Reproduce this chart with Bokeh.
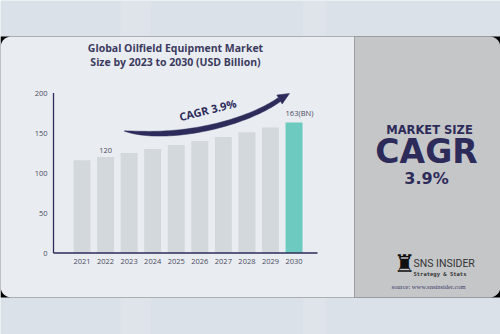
import numpy as np
from bokeh.plotting import figure
from bokeh.models import Range1d
from bokeh.core.properties import value
from bokeh.embed import file_html
from bokeh.resources import INLINE

# ---- data ----
years = ["2021", "2022", "2023", "2024", "2025", "2026", "2027", "2028", "2029", "2030"]
market_size = [116, 120, 125, 130, 135, 140, 145, 151, 157, 163]
y_ticks = [0, 50, 100, 150, 200]
labeled_years = ["2022", "2030"]
labeled_texts = ["120", "163(BN)"]
title_lines = ["Global Oilfield Equipment Market", "Size by 2023 to 2030 (USD Billion)"]
cagr_text = "3.9%"

W, H = 500, 334
NAVY = "#2d2b5a"

def Y(yt):
    return H - yt

p = figure(width=W, height=H, x_range=Range1d(0, W), y_range=Range1d(0, H),
           min_border=0, toolbar_location=None, output_backend="svg",
           x_axis_type=None, y_axis_type=None)
p.grid.visible = False
p.outline_line_color = None
p.background_fill_color = "#dbe1e8"
p.border_fill_color = "#dbe1e8"

# background stripes on outer band
p.quad(left=[120, 302], right=[150, 325], bottom=[0, 0], top=[H, H],
       fill_color="#e4e8ed", fill_alpha=0.5, line_color=None)

# black behind the card (visible only at corners)
card_top, card_bot, split = 36, 297, 354
p.quad(left=[0], right=[W], bottom=[Y(card_bot)], top=[Y(card_top)],
       fill_color="black", line_color=None)

def rounded(x0, x1, yt0, yt1, r, left_round, right_round):
    xs, ys = [], []
    def arc(cx, cy, a0, a1):
        a = np.linspace(a0, a1, 12)
        xs.extend(cx + r * np.cos(a))
        ys.extend(cy + r * np.sin(a))
    top, bot = Y(yt0), Y(yt1)
    if left_round:
        arc(x0 + r, top - r, np.pi, np.pi / 2)
    else:
        xs.append(x0); ys.append(top)
    if right_round:
        arc(x1 - r, top - r, np.pi / 2, 0)
        arc(x1 - r, bot + r, 0, -np.pi / 2)
    else:
        xs.extend([x1, x1]); ys.extend([top, bot])
    if left_round:
        arc(x0 + r, bot + r, -np.pi / 2, -np.pi)
    else:
        xs.append(x0); ys.append(bot)
    return xs, ys

lx, ly = rounded(0, split, card_top, card_bot, 11, True, False)
p.patch(lx, ly, fill_color="#e9edf1", line_color=None)
rx, ry = rounded(split, W, card_top, card_bot, 11, False, True)
p.patch(rx, ry, fill_color="#c5c6c8", line_color=None)

# ---- chart ranges (mapped onto the card) ----
x0_px, step_px = 81.5, 23.56
base_px, unit_px = 252.5, 0.8
p.extra_x_ranges = {"cx": Range1d(-x0_px / step_px, (W - x0_px) / step_px)}
p.extra_y_ranges = {"cy": Range1d(-(H - base_px) / unit_px, base_px / unit_px)}

idx = list(range(len(years)))
colors = ["#d3d8dd"] * (len(years) - 1) + ["#6ccac0"]
p.vbar(x=idx, top=market_size, bottom=0, width=0.72, fill_color=colors,
       line_color=None, x_range_name="cx", y_range_name="cy")

axis_x = (53 - x0_px) / step_px
axis_end = (317 - x0_px) / step_px
p.line(x=[axis_x, axis_x], y=[0, max(y_ticks)], line_color=NAVY, line_width=1.3,
       x_range_name="cx", y_range_name="cy")
p.line(x=[axis_x, axis_end], y=[0, 0], line_color=NAVY, line_width=1.3,
       x_range_name="cx", y_range_name="cy")

p.text(x=[axis_x] * len(y_ticks), y=y_ticks, text=[str(t) for t in y_ticks],
       x_offset=-6, text_align="right", text_baseline="middle",
       text_font=value("Open Sans"), text_font_size="7.5px", text_color="#4a4a5e",
       x_range_name="cx", y_range_name="cy")
p.text(x=idx, y=[0] * len(idx), text=years, y_offset=8,
       text_align="center", text_baseline="middle",
       text_font=value("Open Sans"), text_font_size="7.5px", text_color="#4a4a5e",
       x_range_name="cx", y_range_name="cy")

for yr, lab in zip(labeled_years, labeled_texts):
    i = years.index(yr)
    if yr == years[-1]:
        p.text(x=[i - 0.36], y=[market_size[i]], text=[lab], y_offset=-5,
               text_align="left", text_baseline="bottom",
               text_font=value("Open Sans"), text_font_size="7.5px", text_color="#4a4a5e",
               x_range_name="cx", y_range_name="cy")
    else:
        p.text(x=[i], y=[market_size[i]], text=[lab], y_offset=-4,
               text_align="center", text_baseline="bottom",
               text_font=value("Open Sans"), text_font_size="7.5px", text_color="#4a4a5e",
               x_range_name="cx", y_range_name="cy")

# ---- title ----
p.text(x=[175, 175], y=[Y(47), Y(61)], text=title_lines,
       text_align="center", text_baseline="middle",
       text_font=value("Open Sans"), text_font_style="bold",
       text_font_size="10.5px", text_color="#3b3a5e")

# ---- CAGR swoosh ----
def bez(t, P):
    P = np.array(P, float)
    return (((1 - t) ** 3)[:, None] * P[0] + (3 * (1 - t) ** 2 * t)[:, None] * P[1]
            + (3 * (1 - t) * t ** 2)[:, None] * P[2] + (t ** 3)[:, None] * P[3])

ctrl = [(124, 130.5), (175, 140), (245, 123), (279, 99)]
tip = np.array([289.0, 93.0])
t = np.linspace(0, 1, 60)
c = bez(t, ctrl)
d = np.gradient(c, axis=0)
d /= np.linalg.norm(d, axis=1)[:, None]
nrm = np.stack([-d[:, 1], d[:, 0]], axis=1)
hw = 2.9 * (1 - np.exp(-t / 0.12)) * (1 - 0.3 * t) + 0.2
upper = c + nrm * hw[:, None]
lower = c - nrm * hw[:, None]
body = np.vstack([upper, lower[::-1]])
p.patch(body[:, 0], H - body[:, 1], fill_color=NAVY, line_color=NAVY, line_width=0.5)
base = c[-1]
dd = tip - base
dd /= np.linalg.norm(dd)
nn = np.array([-dd[1], dd[0]])
head = np.array([base + nn * 5.2, tip, base - nn * 5.2])
p.patch(head[:, 0], H - head[:, 1], fill_color=NAVY, line_color=NAVY, line_width=0.5)

p.text(x=[208.5], y=[Y(109)], text=["CAGR  " + cagr_text], angle=np.deg2rad(14),
       text_align="center", text_baseline="middle",
       text_font=value("Open Sans"), text_font_style="bold",
       text_font_size="11px", text_color=NAVY)

# ---- right panel ----
p.text(x=[429], y=[Y(129.5)], text=["MARKET SIZE"], text_align="center", text_baseline="middle",
       text_font=value("DejaVu Sans"), text_font_style="bold", text_font_size="11.5px",
       text_color=NAVY)
p.text(x=[426], y=[Y(151)], text=["CAGR"], text_align="center", text_baseline="middle",
       text_font=value("DejaVu Sans"), text_font_style="bold", text_font_size="33px",
       text_color=NAVY)
p.text(x=[426], y=[Y(178)], text=[cagr_text], text_align="center", text_baseline="middle",
       text_font=value("DejaVu Sans"), text_font_style="bold", text_font_size="16px",
       text_color=NAVY)

# logo
p.text(x=[404], y=[Y(263)], text=["\u265c"], text_align="center", text_baseline="middle",
       text_font=value("DejaVu Sans"), text_font_size="24px", text_color="#111111")
p.text(x=[413], y=[Y(263)], text=["SNS INSIDER"], text_align="left", text_baseline="middle",
       text_font=value("Roboto"), text_font_size="10.5px", text_color="#333333")
p.text(x=[413], y=[Y(273)], text=["Strategy & Stats"], text_align="left", text_baseline="middle",
       text_font=value("DejaVu Sans Mono"), text_font_style="bold", text_font_size="5.5px",
       text_color="#333333")
p.text(x=[428], y=[Y(286)], text=["source: www.snsinsider.com"], text_align="center",
       text_baseline="middle", text_font=value("Liberation Serif"), text_font_size="6.5px",
       text_color="#3b3b6b")

open("out.html", "w").write(file_html(p, INLINE))
